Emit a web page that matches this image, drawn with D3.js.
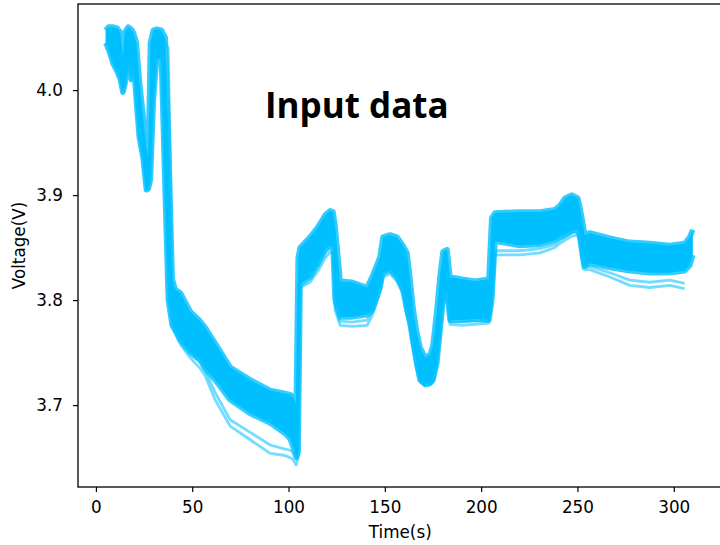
<!DOCTYPE html>
<html>
<head>
<meta charset="utf-8">
<script src="https://cdn.jsdelivr.net/npm/d3@7"></script>
<style>
  html, body { margin: 0; padding: 0; background: #fff; }
  svg { display: block; }
  text { font-family: "DejaVu Sans", sans-serif; }
</style>
</head>
<body>
<svg id="chart" width="720" height="545"></svg>
<script>
// ---- data ----
const times = [5.0, 6.5, 9.0, 11.0, 12.7, 14.0, 15.0, 16.8, 18.4, 19.4, 21.0, 22.5, 24.5, 26.2, 27.2, 28.3, 29.8, 31.5, 34.0, 36.0,
  37.6, 39.6, 41.2, 43.8, 49.0, 54.1, 56.7, 61.9, 69.7, 80.1, 90.5, 98.2, 100.8, 102.4, 104.0, 105.0, 106.0, 111.2, 115.4, 119.0,
  121.6, 123.1, 124.2, 126.8, 133.0, 140.8, 143.4, 147.5, 149.0, 152.7, 156.3, 159.4, 161.5, 163.1, 164.6, 166.5, 168.3, 170.9, 173.5, 175.0,
  177.0, 178.6, 180.2, 182.3, 183.8, 190.0, 197.0, 204.0, 205.5, 207.2, 220.1, 230.5, 238.2, 240.9, 243.5, 247.1, 250.2, 251.2, 252.8, 253.8,
  256.4, 266.8, 277.2, 287.5, 297.9, 305.7, 308.3, 309.9];

// upper edge of the dense band of runs
const bandTop = [4.057, 4.060, 4.060, 4.059, 4.055, 4.030, 4.055, 4.060, 4.058, 4.055, 4.045, 4.010, 3.975, 3.945, 3.935, 4.045, 4.057, 4.058, 4.057, 4.050,
  3.960, 3.820, 3.810, 3.807, 3.789, 3.780, 3.774, 3.759, 3.736, 3.724, 3.714, 3.711, 3.710, 3.708, 3.700, 3.840, 3.850, 3.860, 3.870, 3.881,
  3.885, 3.884, 3.870, 3.818, 3.817, 3.812, 3.822, 3.841, 3.860, 3.862, 3.860, 3.852, 3.845, 3.820, 3.793, 3.770, 3.755, 3.745, 3.748, 3.757,
  3.790, 3.822, 3.846, 3.848, 3.822, 3.820, 3.818, 3.820, 3.878, 3.883, 3.884, 3.884, 3.886, 3.890, 3.897, 3.900, 3.897, 3.889, 3.873, 3.862,
  3.864, 3.859, 3.855, 3.854, 3.852, 3.854, 3.860, 3.867];

// lower edge of the dense band of runs
const bandLow = [4.045, 4.040, 4.025, 4.018, 4.010, 3.998, 4.005, 4.025, 4.010, 4.030, 3.990, 3.955, 3.935, 3.905, 3.906, 3.915, 3.990, 4.030, 4.030, 3.900,
  3.800, 3.776, 3.771, 3.762, 3.750, 3.743, 3.735, 3.724, 3.705, 3.692, 3.683, 3.673, 3.668, 3.660, 3.650, 3.655, 3.815, 3.822, 3.835, 3.848,
  3.852, 3.850, 3.800, 3.784, 3.784, 3.786, 3.790, 3.812, 3.826, 3.829, 3.822, 3.810, 3.790, 3.778, 3.760, 3.740, 3.724, 3.720, 3.721, 3.724,
  3.740, 3.770, 3.800, 3.810, 3.781, 3.781, 3.782, 3.781, 3.800, 3.856, 3.852, 3.853, 3.857, 3.860, 3.862, 3.866, 3.867, 3.860, 3.840, 3.832,
  3.835, 3.831, 3.828, 3.826, 3.826, 3.828, 3.833, 3.843];

// lowest single runs visible below the band
const runLowA = [4.040, 4.038, 4.025, 4.018, 4.010, 3.998, 4.005, 4.025, 4.010, 4.030, 3.990, 3.955, 3.935, 3.905, 3.906, 3.915, 3.990, 4.030, 4.030, 3.900,
  3.800, 3.776, 3.768, 3.758, 3.745, 3.735, 3.728, 3.705, 3.680, 3.667, 3.654, 3.652, 3.650, 3.648, 3.643, 3.650, 3.812, 3.817, 3.828, 3.840,
  3.846, 3.845, 3.790, 3.776, 3.775, 3.776, 3.785, 3.808, 3.822, 3.825, 3.818, 3.806, 3.785, 3.772, 3.755, 3.735, 3.722, 3.718, 3.719, 3.722,
  3.738, 3.766, 3.796, 3.805, 3.777, 3.776, 3.777, 3.778, 3.795, 3.843, 3.843, 3.845, 3.850, 3.854, 3.857, 3.861, 3.862, 3.855, 3.830, 3.829,
  3.829, 3.822, 3.814, 3.812, 3.814, 3.811, null, null];

const runLowB = [4.045, 4.042, 4.030, 4.022, 4.015, 4.002, 4.010, 4.030, 4.015, 4.035, 3.995, 3.960, 3.940, 3.910, 3.912, 3.960, 4.040, 4.045, 4.045, 4.045,
  4.040, 3.800, 3.772, 3.762, 3.750, 3.741, 3.733, 3.712, 3.686, 3.674, 3.662, 3.658, 3.657, 3.655, 3.650, 3.660, 3.818, 3.822, 3.833, 3.845,
  3.850, 3.848, 3.795, 3.780, 3.779, 3.781, 3.789, 3.810, 3.825, 3.828, 3.820, 3.808, 3.788, 3.775, 3.758, 3.738, 3.723, 3.719, 3.720, 3.723,
  3.740, 3.768, 3.798, 3.808, 3.779, 3.779, 3.780, 3.780, 3.798, 3.847, 3.847, 3.849, 3.853, 3.857, 3.860, 3.864, 3.865, 3.858, 3.835, 3.832,
  3.832, 3.826, 3.819, 3.817, 3.819, 3.816, null, null];

const xTicks = [0, 50, 100, 150, 200, 250, 300];
const yTicks = [3.7, 3.8, 3.9, 4.0];
const titleText = "Input data";
const xLabel = "Time(s)";
const yLabel = "Voltage(V)";

// ---- layout ----
const svg = d3.select("#chart");
const mLeft = 78, mTop = 4, mRight = 722.5, mBottom = 487;
const x = d3.scaleLinear().domain([-9.3, 325.3]).range([mLeft, mRight]);
const y = d3.scaleLinear().domain([3.622, 4.082]).range([mBottom, mTop]);
const color = "#00BFFF";

const rows = times.map((t, i) => ({ t, hi: bandTop[i], lo: bandLow[i], a: runLowA[i], b: runLowB[i] }));

svg.append("defs").append("clipPath").attr("id", "clip")
  .append("rect").attr("x", mLeft).attr("y", mTop).attr("width", mRight - mLeft).attr("height", mBottom - mTop);

const plot = svg.append("g").attr("clip-path", "url(#clip)");

// single runs below the band (drawn lighter)
["a", "b"].forEach(k => {
  plot.append("path")
    .datum(rows)
    .attr("fill", "none")
    .attr("stroke", color)
    .attr("stroke-opacity", 0.55)
    .attr("stroke-width", 2.8)
    .attr("stroke-linejoin", "round")
    .attr("d", d3.line().defined(d => d[k] != null).x(d => x(d.t)).y(d => y(d[k])));
});

// dense band
plot.append("path")
  .datum(rows)
  .attr("fill", color)
  .attr("d", d3.area().x(d => x(d.t)).y0(d => y(d.lo)).y1(d => y(d.hi)));

["hi", "lo"].forEach(k => {
  plot.append("path")
    .datum(rows)
    .attr("fill", "none")
    .attr("stroke", color)
    .attr("stroke-opacity", 0.8)
    .attr("stroke-width", 5.5)
    .attr("stroke-linejoin", "round")
    .attr("d", d3.line().x(d => x(d.t)).y(d => y(d[k])));
});

// ---- axes ----
const xAxis = svg.append("g").attr("transform", `translate(0,${mBottom})`)
  .call(d3.axisBottom(x).tickValues(xTicks).tickFormat(d3.format("d")).tickSize(5).tickPadding(9.5).tickSizeOuter(0));
const yAxis = svg.append("g").attr("transform", `translate(${mLeft},0)`)
  .call(d3.axisLeft(y).tickValues(yTicks).tickFormat(d3.format(".1f")).tickSize(5).tickPadding(10).tickSizeOuter(0));
[xAxis, yAxis].forEach(g => {
  g.select(".domain").remove();
  g.selectAll(".tick line").attr("stroke", "#000").attr("stroke-width", 1.2);
  g.selectAll(".tick text").attr("fill", "#000").style("font-size", "16.8px").style("font-family", "'DejaVu Sans', sans-serif");
});

// frame (spines)
svg.append("rect")
  .attr("x", mLeft).attr("y", mTop).attr("width", mRight - mLeft).attr("height", mBottom - mTop)
  .attr("fill", "none").attr("stroke", "#000").attr("stroke-width", 1.3);

// labels
svg.append("text").attr("x", (mLeft + mRight) / 2).attr("y", 538)
  .attr("text-anchor", "middle").style("font-size", "16.8px").text(xLabel);
svg.append("text").attr("transform", `translate(25,${(mTop + mBottom) / 2}) rotate(-90)`)
  .attr("text-anchor", "middle").style("font-size", "16.8px").text(yLabel);

svg.append("text").attr("x", 265).attr("y", 118)
  .style("font-family", "'Open Sans', sans-serif").style("font-weight", 700).style("font-size", "35px")
  .attr("fill", "#000").text(titleText);
</script>
</body>
</html>
